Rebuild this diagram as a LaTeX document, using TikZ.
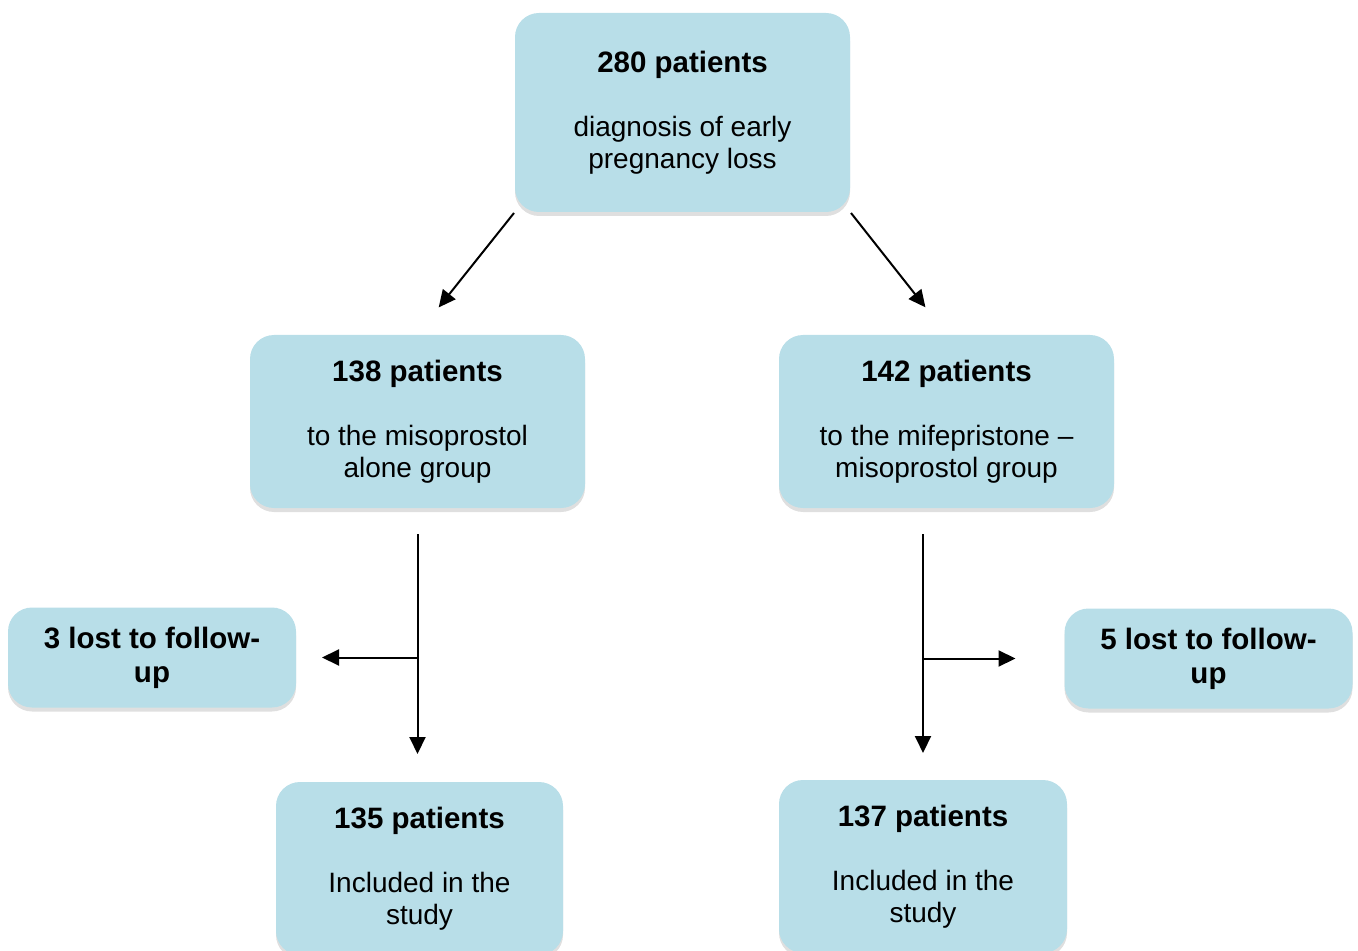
\documentclass[tikz,border=0pt]{standalone}
\usepackage{fontspec}
\setmainfont{Liberation Sans}
\usetikzlibrary{arrows.meta,shadows}
\definecolor{boxblue}{RGB}{184,222,232}

\begin{document}
\begin{tikzpicture}[x=0.5pt,y=-0.5pt,->,>={Triangle[length=8.5pt,width=8pt]},line width=1pt,
        box node/.style={rectangle,rounded corners=12pt,fill=boxblue,align=center,inner sep=0pt,
            font=\fontsize{14}{16}\selectfont,
            drop shadow={shadow xshift=0pt,shadow yshift=-2pt,opacity=0.25,fill=black!50}},
        group node/.style={box node,minimum width=167.5pt,minimum height=86.5pt},
        lost node/.style={box node,minimum width=144pt,minimum height=50pt,
            font=\fontsize{14.75}{17}\selectfont\bfseries}]
    \useasboundingbox (0,0) rectangle (1358,951);

        \node[group node,minimum height=99.5pt] (total) at (682.5,112.5) {{\fontsize{14.75}{16}\selectfont\bfseries 280 patients}\\[16pt]diagnosis of early\\pregnancy loss};
        \node[group node] (miso) at (417.5,421.5) {{\fontsize{14.75}{16}\selectfont\bfseries 138 patients}\\[16pt]to the misoprostol\\alone group};
        \node[group node] (mife) at (946.5,421.5) {{\fontsize{14.75}{16}\selectfont\bfseries 142 patients}\\[16pt]to the mifepristone --\\misoprostol group};
        \node[lost node] (lostmiso) at (152,657.5) {3 lost to follow-\\up};
        \node[lost node] (lostmife) at (1208.5,658.5) {5 lost to follow-\\up};
        \node[group node,minimum width=143.5pt] (inclmiso) at (419.5,868.5) {{\fontsize{14.75}{16}\selectfont\bfseries 135 patients}\\[16pt]Included in the\\study};
        \node[group node,minimum width=144pt] (inclmife) at (923,866.5) {{\fontsize{14.75}{16}\selectfont\bfseries 137 patients}\\[16pt]Included in the\\study};

        \draw [shorten >=17pt] (total.south west) -- (miso.north);
        \draw [shorten >=17pt] (total.south east) -- (mife.north);
        \draw [shorten <=12.5pt,shorten >=13.5pt] (miso.south) -- (miso.south |- inclmiso.north);
        \draw [shorten <=12.5pt,shorten >=13pt] (inclmife.north |- mife.south) -- (inclmife.north);
        \draw [shorten >=12.5pt] (miso.south |- lostmiso.east) -- (lostmiso.east);
        \draw [shorten >=24pt] (inclmife.north |- lostmife.west) -- (lostmife.west);
    \end{tikzpicture}
\end{document}
